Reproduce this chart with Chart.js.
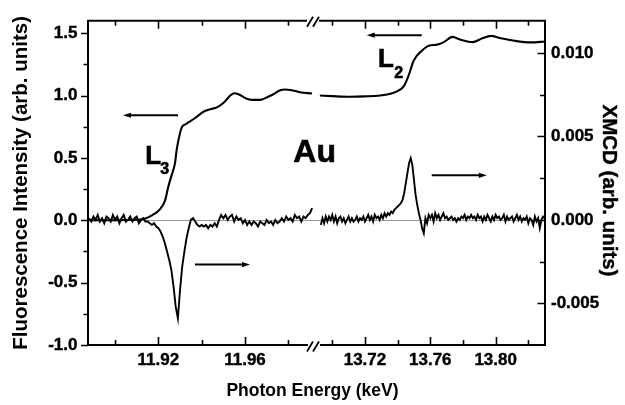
<!DOCTYPE html>
<html><head><meta charset="utf-8">
<style>html,body{margin:0;padding:0;background:#fff}</style>
<script src="https://cdn.jsdelivr.net/npm/chart.js@4.4.1/dist/chart.umd.min.js"></script>
</head><body>
<canvas id="c" width="625" height="405"></canvas>
<script>
// ---------- data ----------
// XAS (fluorescence) at the L3 edge, left axis units
const xasL3Energy = [11.8875, 11.895, 11.900, 11.905, 11.910, 11.9115, 11.914, 11.917, 11.9208, 11.9231, 11.9246, 11.9261, 11.9277, 11.9285, 11.930, 11.9308, 11.9325, 11.9339, 11.937, 11.9408, 11.944, 11.947, 11.950, 11.9516, 11.9535, 11.9554, 11.957, 11.9608, 11.964, 11.967, 11.970, 11.9731, 11.976, 11.9785, 11.981, 11.9854, 11.9909];
const xasL3Value  = [0.0, 0.0, 0.0, 0.002, 0.004, 0.006, 0.015, 0.04, 0.09, 0.16, 0.27, 0.36, 0.46, 0.57, 0.70, 0.745, 0.77, 0.785, 0.82, 0.87, 0.89, 0.905, 0.94, 0.97, 1.005, 1.018, 1.01, 0.975, 0.965, 0.965, 0.985, 1.01, 1.04, 1.048, 1.045, 1.027, 1.016];
// XAS at the L2 edge
const xasL2Energy = [13.6924, 13.700, 13.7109, 13.720, 13.7293, 13.735, 13.7396, 13.7437, 13.7468, 13.7498, 13.755, 13.7591, 13.7642, 13.7683, 13.7735, 13.7786, 13.7858, 13.7919, 13.797, 13.8032, 13.8114, 13.8217, 13.830];
const xasL2Value  = [1.0, 0.995, 0.99, 0.993, 1.0, 1.012, 1.034, 1.073, 1.163, 1.279, 1.362, 1.40, 1.408, 1.428, 1.47, 1.447, 1.428, 1.459, 1.478, 1.459, 1.439, 1.426, 1.433];
// XMCD at the L3 edge, right axis units
const xmcdL3Energy = [11.888,11.889,11.890,11.891,11.892,11.893,11.894,11.895,11.896,11.897,11.898,11.899,11.900,11.901,11.902,11.903,11.904,11.905,11.906,11.907,11.908,11.909,11.910,11.911,11.912,11.913,11.914,11.915,11.916,11.917,11.918,11.919,11.920,11.921,11.922,11.923,11.924,11.925,11.926,11.927,11.928,11.929,11.930,11.931,11.932,11.933,11.934,11.935,11.936,11.937,11.938,11.939,11.940,11.941,11.942,11.943,11.944,11.945,11.946,11.947,11.948,11.949,11.950,11.951,11.952,11.953,11.954,11.955,11.956,11.957,11.958,11.959,11.960,11.961,11.962,11.963,11.964,11.965,11.966,11.967,11.968,11.969,11.970,11.971,11.972,11.973,11.974,11.975,11.976,11.977,11.978,11.979,11.980,11.981,11.982,11.983,11.984,11.985,11.986,11.987,11.988,11.989,11.990,11.991];
const xmcdL3Value = [0.0001,-0.0001,0.0002,0.0000,0.0003,-0.0001,0.0001,-0.0002,0.0002,0.0001,-0.0001,0.0003,0.0000,0.0002,-0.0002,0.0001,0.0003,-0.0001,0.0000,0.0002,-0.0001,0.0001,0.0002,-0.0002,0.0000,0.0001,-0.0001,-0.0001,-0.0002,-0.0003,-0.0002,-0.0004,-0.0005,-0.0007,-0.0010,-0.0014,-0.0019,-0.0024,-0.0030,-0.0040,-0.0052,-0.0059,-0.0042,-0.0028,-0.0019,-0.0011,-0.0005,0.0000,0.0001,-0.0001,-0.0003,-0.0004,-0.0003,-0.0004,-0.0003,-0.0005,-0.0003,-0.0004,-0.0002,-0.0004,0.0000,0.0003,0.0001,0.0003,0.0000,0.0002,0.0003,-0.0001,0.0002,0.0000,0.0001,-0.0002,0.0000,-0.0003,-0.0001,-0.0003,-0.0001,-0.0002,-0.0004,-0.0001,-0.0002,-0.0003,0.0000,-0.0002,-0.0001,-0.0003,0.0000,-0.0002,-0.0001,0.0001,-0.0001,0.0002,0.0000,0.0001,-0.0001,0.0003,0.0001,0.0002,-0.0001,0.0002,0.0001,0.0003,0.0004,0.0007];
// XMCD at the L2 edge
const xmcdL2Energy = [13.693,13.694,13.695,13.696,13.697,13.698,13.699,13.700,13.701,13.702,13.703,13.704,13.705,13.706,13.707,13.708,13.709,13.710,13.711,13.712,13.713,13.714,13.715,13.716,13.717,13.718,13.719,13.720,13.721,13.722,13.723,13.724,13.725,13.726,13.727,13.728,13.729,13.730,13.731,13.732,13.733,13.734,13.735,13.736,13.737,13.738,13.739,13.740,13.741,13.742,13.743,13.744,13.745,13.746,13.747,13.748,13.749,13.750,13.751,13.752,13.753,13.754,13.755,13.756,13.757,13.758,13.759,13.760,13.761,13.762,13.763,13.764,13.765,13.766,13.767,13.768,13.769,13.770,13.771,13.772,13.773,13.774,13.775,13.776,13.777,13.778,13.779,13.780,13.781,13.782,13.783,13.784,13.785,13.786,13.787,13.788,13.789,13.790,13.791,13.792,13.793,13.794,13.795,13.796,13.797,13.798,13.799,13.800,13.801,13.802,13.803,13.804,13.805,13.806,13.807,13.808,13.809,13.810,13.811,13.812,13.813,13.814,13.815,13.816,13.817,13.818,13.819,13.820,13.821,13.822,13.823,13.824,13.825,13.826,13.827,13.828,13.829,13.830];
const xmcdL2Value = [-0.0003,0.0001,-0.0002,0.0002,-0.0001,0.0002,0.0000,0.0003,-0.0001,0.0002,-0.0002,0.0001,0.0002,-0.0001,0.0001,-0.0002,0.0000,0.0002,-0.0001,0.0001,-0.0001,0.0000,0.0002,-0.0001,0.0001,0.0000,0.0002,-0.0001,0.0001,0.0003,0.0000,0.0002,-0.0001,0.0003,0.0001,0.0002,0.0000,0.0003,0.0001,0.0004,0.0002,0.0004,0.0003,0.0005,0.0004,0.0006,0.0007,0.0008,0.0009,0.0010,0.0012,0.0016,0.0022,0.0028,0.0034,0.0037,0.0033,0.0024,0.0015,0.0009,0.0004,0.0000,-0.0005,-0.0008,0.0001,-0.0002,0.0003,0.0001,0.0003,-0.0001,0.0004,0.0001,0.0003,0.0000,0.0002,0.0004,0.0001,0.0002,0.0000,0.0001,0.0002,0.0000,0.0001,-0.0001,0.0001,0.0000,0.0002,0.0001,0.0003,0.0000,0.0002,0.0001,0.0003,0.0001,0.0002,0.0000,0.0003,0.0001,0.0002,-0.0001,0.0002,0.0000,0.0003,0.0001,-0.0001,0.0002,0.0000,0.0003,0.0001,0.0002,0.0000,0.0001,0.0003,-0.0001,0.0002,0.0000,0.0001,0.0002,-0.0001,0.0001,0.0003,0.0000,0.0002,-0.0001,0.0001,0.0000,0.0002,-0.0002,0.0001,0.0000,-0.0003,0.0002,-0.0001,0.0001,-0.0005,0.0000,0.0002,0.0001];

// ---------- ticks ----------
const xTicksL3 = [11.90, 11.92, 11.94, 11.96, 11.98];
const xLabelsL3 = [11.92, 11.96];
const xTicksL2 = [13.70, 13.72, 13.74, 13.76, 13.78, 13.80, 13.82];
const xLabelsL2 = [13.72, 13.76, 13.80];
const yTicksLeft = [-1.0, -0.75, -0.5, -0.25, 0.0, 0.25, 0.5, 0.75, 1.0, 1.25, 1.5];
const yLabelsLeft = [-1.0, -0.5, 0.0, 0.5, 1.0, 1.5];
const yTicksRight = [-0.005, -0.0025, 0.0, 0.0025, 0.005, 0.0075, 0.010];
const yLabelsRight = [-0.005, 0.0, 0.005, 0.010];

// ---------- texts ----------
const xTitle = 'Photon Energy (keV)';
const yLeftTitle = 'Fluorescence Intensity (arb. units)';
const yRightTitle = 'XMCD (arb. units)';
const edgeLabels = [
  {main:'L', sub:'3', scale:'xa', x:11.91396, y:0.453, subX:11.92088, subY:0.368},
  {main:'L', sub:'2', scale:'xb', x:13.72794, y:1.231, subX:13.73798, subY:1.141}
];
const elementLabel = {text:'Au', scale:'xa', x:11.98232, y:0.470};
// arrows: from tail to head, in data coordinates (left axis units)
const arrows = [
  {scale:'xa', from:11.92906, to:11.90366, y:0.842},
  {scale:'xa', from:11.93691, to:11.96231, y:-0.355},
  {scale:'xb', from:13.75476, to:13.72108, y:1.484},
  {scale:'xb', from:13.76089, to:13.79457, y:0.360}
];

const FAM = '"Liberation Sans", Arial, Helvetica, sans-serif';
const pts = (xs, ys) => xs.map((x, i) => ({x, y: ys[i]}));
const near = (arr, v) => arr.some(a => Math.abs(a - v) < 1e-9);

const decor = {
  id: 'decor',
  afterDatasetsDraw(chart) {
    const {ctx, chartArea: a, scales} = chart;
    const xa = scales.xa, xb = scales.xb, y = scales.y, y2 = scales.y2;
    ctx.save();
    ctx.strokeStyle = '#000';
    ctx.fillStyle = '#000';
    // tick marks
    ctx.lineWidth = 1.6;
    ctx.beginPath();
    [[xa, xTicksL3, xLabelsL3], [xb, xTicksL2, xLabelsL2]].forEach(([s, t, l]) => {
      t.forEach(v => {
        const px = Math.round(s.getPixelForValue(v)) + 0.5;
        const len = near(l, v) ? 8 : 5;
        ctx.moveTo(px, a.bottom); ctx.lineTo(px, a.bottom - len);
        ctx.moveTo(px, a.top); ctx.lineTo(px, a.top + len);
      });
    });
    yTicksLeft.forEach(v => {
      const py = Math.round(y.getPixelForValue(v)) + 0.5;
      const len = near(yLabelsLeft, v) ? 7 : 4.5;
      ctx.moveTo(a.left, py); ctx.lineTo(a.left - len, py);
    });
    yTicksRight.forEach(v => {
      const py = Math.round(y2.getPixelForValue(v)) + 0.5;
      const len = near(yLabelsRight, v) ? 7.5 : 5;
      ctx.moveTo(a.right, py); ctx.lineTo(a.right - len, py);
    });
    ctx.stroke();
    // frame with axis break
    const bx = xb.left;
    ctx.lineWidth = 2;
    ctx.beginPath();
    ctx.moveTo(a.left, a.top - 1); ctx.lineTo(a.left, a.bottom + 1);
    ctx.moveTo(a.right, a.top - 1); ctx.lineTo(a.right, a.bottom + 1);
    ctx.moveTo(a.left, a.top); ctx.lineTo(bx - 6, a.top);
    ctx.moveTo(bx + 6, a.top); ctx.lineTo(a.right, a.top);
    ctx.moveTo(a.left, a.bottom); ctx.lineTo(bx - 5, a.bottom);
    ctx.moveTo(bx + 7, a.bottom); ctx.lineTo(a.right, a.bottom);
    ctx.stroke();
    ctx.lineWidth = 1.8;
    ctx.beginPath();
    [a.top + 1, a.bottom + 1.5].forEach(cy => {
      [-3, 3].forEach(dx => {
        ctx.moveTo(bx + dx - 3, cy + 5); ctx.lineTo(bx + dx + 3, cy - 5);
      });
    });
    ctx.stroke();
    // arrows
    arrows.forEach(ar => {
      const s = scales[ar.scale];
      const x1 = s.getPixelForValue(ar.from), x2 = s.getPixelForValue(ar.to);
      const py = y.getPixelForValue(ar.y);
      const dir = Math.sign(x2 - x1);
      ctx.lineWidth = 2;
      ctx.beginPath();
      ctx.moveTo(x1, py); ctx.lineTo(x2 - dir * 6, py);
      ctx.stroke();
      ctx.beginPath();
      ctx.moveTo(x2, py);
      ctx.lineTo(x2 - dir * 8, py - 2.6);
      ctx.lineTo(x2 - dir * 8, py + 2.6);
      ctx.closePath();
      ctx.fill();
    });
    // texts
    ctx.textAlign = 'left';
    ctx.textBaseline = 'alphabetic';
    ctx.lineWidth = 0.6;
    const put = (t, x, yy) => { ctx.fillText(t, x, yy); ctx.strokeText(t, x, yy); };
    edgeLabels.forEach(l => {
      const s = scales[l.scale];
      ctx.font = 'bold 26px ' + FAM;
      put(l.main, s.getPixelForValue(l.x), y.getPixelForValue(l.y));
      ctx.font = 'bold 16px ' + FAM;
      put(l.sub, s.getPixelForValue(l.subX), y.getPixelForValue(l.subY));
    });
    ctx.font = 'bold 32px ' + FAM;
    put(elementLabel.text, scales[elementLabel.scale].getPixelForValue(elementLabel.x), y.getPixelForValue(elementLabel.y));
    // right axis title
    ctx.font = 'bold 20.5px ' + FAM;
    ctx.textAlign = 'center';
    ctx.textBaseline = 'middle';
    ctx.lineWidth = 0.4;
    ctx.translate(609, 190.5);
    ctx.rotate(Math.PI / 2);
    put(yRightTitle, 0, 0);
    ctx.restore();
  }
};

const tickFont = {family: FAM, size: 17, weight: 'bold'};
const xScale = (min, max, weight, ticks, labels) => ({
  type: 'linear', position: 'bottom', stack: 'x', stackWeight: weight,
  min, max,
  afterBuildTicks: s => { s.ticks = ticks.map(v => ({value: v})); },
  afterFit: s => { s.height = 35.5; },
  grid: {display: false, drawTicks: false},
  border: {display: false},
  ticks: {autoSkip: false, maxRotation: 0, padding: 5.3, font: tickFont, color: '#000',
    textStrokeColor: '#000', textStrokeWidth: 0.4,
    callback: v => near(labels, v) ? v.toFixed(2) : ''}
});

new Chart(document.getElementById('c'), {
  type: 'line',
  data: {
    datasets: [
      {data: pts(xasL3Energy, xasL3Value), xAxisID: 'xa', yAxisID: 'y', borderColor: '#000', borderWidth: 2.1, pointRadius: 0, cubicInterpolationMode: 'monotone', fill: false},
      {data: pts(xasL2Energy, xasL2Value), xAxisID: 'xb', yAxisID: 'y', borderColor: '#000', borderWidth: 2.1, pointRadius: 0, cubicInterpolationMode: 'monotone', fill: false},
      {data: pts(xmcdL3Energy, xmcdL3Value), xAxisID: 'xa', yAxisID: 'y2', borderColor: '#000', borderWidth: 1.9, pointRadius: 0, tension: 0, fill: false},
      {data: pts(xmcdL2Energy, xmcdL2Value), xAxisID: 'xb', yAxisID: 'y2', borderColor: '#000', borderWidth: 1.9, pointRadius: 0, tension: 0, fill: false}
    ]
  },
  options: {
    responsive: false, animation: false, devicePixelRatio: 1,
    layout: {padding: {top: 9, left: 0, right: 0, bottom: 0}},
    plugins: {
      legend: {display: false}, tooltip: {enabled: false},
      title: {display: true, position: 'bottom', text: xTitle, color: '#000',
        font: {family: FAM, size: 17.5, weight: 'bold'}, padding: {top: 0, bottom: 3.5}}
    },
    scales: {
      xa: xScale(11.8875, 11.9914, 225, xTicksL3, xLabelsL3),
      xb: xScale(13.6882, 13.8302, 232, xTicksL2, xLabelsL2),
      y: {
        type: 'linear', position: 'left', min: -1.0, max: 1.6,
        afterBuildTicks: s => { s.ticks = yTicksLeft.map(v => ({value: v})); },
        afterFit: s => { s.width = 88; },
        grid: {drawTicks: false, lineWidth: 1, color: c => (c.tick && Math.abs(c.tick.value) < 1e-9) ? '#999999' : 'rgba(0,0,0,0)'},
        border: {display: false},
        title: {display: true, text: yLeftTitle, color: '#000', font: {family: FAM, size: 20.5, weight: 'bold'}, padding: {top: 8.7, bottom: 0}},
        ticks: {autoSkip: false, padding: 10.5, font: tickFont, color: '#000',
          textStrokeColor: '#000', textStrokeWidth: 0.4,
          callback: v => near(yLabelsLeft, v) ? v.toFixed(1) : ''}
      },
      y2: {
        type: 'linear', position: 'right', min: -0.0075, max: 0.01194,
        afterBuildTicks: s => { s.ticks = yTicksRight.map(v => ({value: v})); },
        afterFit: s => { s.width = 80; },
        grid: {display: false, drawTicks: false},
        border: {display: false},
        ticks: {autoSkip: false, padding: 6, font: tickFont, color: '#000',
          textStrokeColor: '#000', textStrokeWidth: 0.4,
          callback: v => near(yLabelsRight, v) ? v.toFixed(3) : ''}
      }
    }
  },
  plugins: [decor]
});
</script>
</body></html>
